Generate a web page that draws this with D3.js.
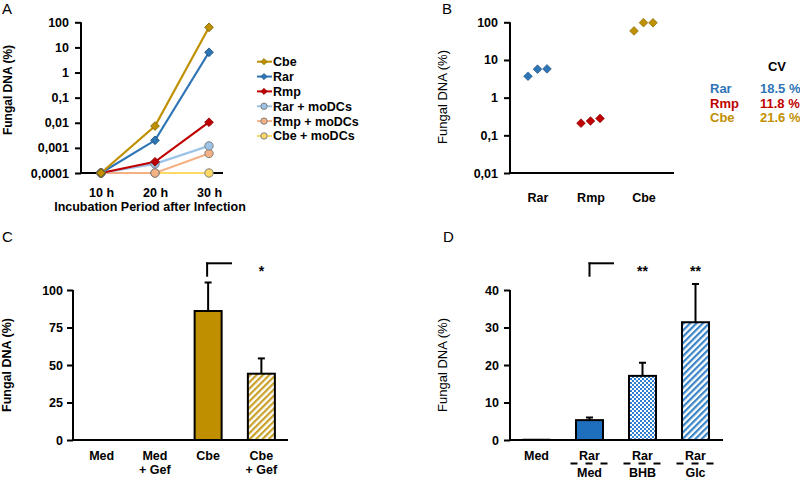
<!DOCTYPE html>
<html><head><meta charset="utf-8">
<script src="https://cdn.jsdelivr.net/npm/d3@7"></script>
<style>
body{margin:0;background:#fff;}
svg{font-family:Arial,"Liberation Sans",sans-serif;}
.tick text{font-weight:bold;font-size:12.5px;fill:#000;}
</style></head>
<body><svg id="c" width="800" height="480"></svg>
<script>
// ---------- DATA ----------
const timePoints = ["10 h", "20 h", "30 h"];
const seriesA = ["Cbe", "Rar", "Rmp", "Rar + moDCs", "Rmp + moDCs", "Cbe + moDCs"];
const valCbe = [0.0001, 0.0074, 63];
const valRar = [0.0001, 0.002, 6.4];
const valRmp = [0.0001, 0.00028, 0.0105];
const valRarMo = [0.0001, 0.00023, 0.0012];
const valRmpMo = [0.0001, 0.0001, 0.0006];
const valCbeMo = [0.0001, 0.0001, 0.0001];
const logTicksA = [0.0001, 0.001, 0.01, 0.1, 1, 10, 100];
const logLabelsA = ["0,0001", "0,001", "0,01", "0,1", "1", "10", "100"];

const speciesB = ["Rar", "Rmp", "Cbe"];
const repRar = [3.7, 5.7, 5.8];
const repRmp = [0.21, 0.24, 0.28];
const repCbe = [59, 98, 97];
const logTicksB = [0.01, 0.1, 1, 10, 100];
const logLabelsB = ["0,01", "0,1", "1", "10", "100"];
const cvNames = ["Rar", "Rmp", "Cbe"];
const cvValues = ["18.5 %", "11.8 %", "21.6 %"];

const catsC = ["Med", "Med + Gef", "Cbe", "Cbe + Gef"];
const meanC = [0.3, 0.3, 86, 44.2];
const errC = [0, 0, 105, 54.4];
const ticksC = [0, 25, 50, 75, 100];

const catsD = ["Med", "Rar/Med", "Rar/BHB", "Rar/Glc"];
const meanD = [0.2, 5.3, 17.1, 31.4];
const errD = [0, 6.0, 20.6, 41.6];
const ticksD = [0, 10, 20, 30, 40];

// ---------- STYLE ----------
const colA = {"Cbe":"#bf9000","Rar":"#2e75b6","Rmp":"#c00000","Rar + moDCs":"#9dc3e6","Rmp + moDCs":"#f4b183","Cbe + moDCs":"#ffd966"};
const edgeA = {"Cbe":"#7f6000","Rar":"#1f4e79","Rmp":"#800000","Rar + moDCs":"#7f7f7f","Rmp + moDCs":"#7f7f7f","Cbe + moDCs":"#7f7f7f"};
const svg = d3.select("#c");
const defs = svg.append("defs");

function panelLabel(t,x,y){svg.append("text").attr("x",x).attr("y",y).attr("font-size",15).text(t);}
function yTitle(x,y,bold,size){
  svg.append("text").attr("transform",`translate(${x},${y}) rotate(-90)`)
   .attr("text-anchor","middle").attr("dominant-baseline","central")
   .attr("font-weight",bold?"bold":"normal").attr("font-size",size).text("Fungal DNA (%)");
}
function styleAxis(g){
  g.selectAll(".domain").remove();
  g.selectAll(".tick line").attr("stroke","#000").attr("stroke-width",2);
}
function hline(x1,x2,y){svg.append("line").attr("x1",x1).attr("x2",x2).attr("y1",y).attr("y2",y).attr("stroke","#000").attr("stroke-width",2);}
function vline(x,y1,y2){svg.append("line").attr("x1",x).attr("x2",x).attr("y1",y1).attr("y2",y2).attr("stroke","#000").attr("stroke-width",2);}

// ---------- PANEL A ----------
panelLabel("A",2,14);
const xA = d3.scalePoint().domain(timePoints).range([101,209]);
const yA = d3.scaleLog().domain([0.0001,100]).range([173,22.3]);
const gyA = svg.append("g").attr("transform","translate(81,0)")
  .call(d3.axisLeft(yA).tickValues(logTicksA).tickFormat((d,i)=>logLabelsA[i]).tickSize(6).tickPadding(6));
styleAxis(gyA);
vline(81,22.3,174); hline(80,223,173);
const gxA = svg.append("g").attr("transform","translate(0,173)")
  .call(d3.axisBottom(xA).tickSize(0).tickPadding(15));
gxA.select(".domain").remove();
svg.append("text").attr("x",150).attr("y",210.5).attr("text-anchor","middle").attr("font-weight","bold").attr("font-size",12.5).text("Incubation Period after Infection");
yTitle(8,90,true,12);
const dataA = {"Cbe":valCbe,"Rar":valRar,"Rmp":valRmp,"Rar + moDCs":valRarMo,"Rmp + moDCs":valRmpMo,"Cbe + moDCs":valCbeMo};
const lineA = d3.line().x((d,i)=>xA(timePoints[i])).y(d=>yA(d));
const drawOrder = ["Cbe + moDCs","Rmp + moDCs","Rar + moDCs","Rmp","Rar","Cbe"];
const diamond = d3.symbol().type(d3.symbolSquare).size(38);
drawOrder.forEach(s=>{
  svg.append("path").attr("d",lineA(dataA[s])).attr("fill","none").attr("stroke",colA[s]).attr("stroke-width",2.2);
});
drawOrder.forEach(s=>{
  const isMo = s.indexOf("moDCs")>=0;
  dataA[s].forEach((v,i)=>{
    const x = xA(timePoints[i]), y = yA(v);
    if(isMo){
      svg.append("circle").attr("cx",x).attr("cy",y).attr("r",4.2).attr("fill",colA[s]).attr("stroke",edgeA[s]).attr("stroke-width",1);
    } else {
      svg.append("path").attr("d",diamond()).attr("transform",`translate(${x},${y}) rotate(45)`).attr("fill",colA[s]).attr("stroke",edgeA[s]).attr("stroke-width",0.8);
    }
  });
});
// legend
seriesA.forEach((s,i)=>{
  const y = 61.7 + i*14.85;
  const isMo = s.indexOf("moDCs")>=0;
  svg.append("line").attr("x1",257).attr("x2",272).attr("y1",y).attr("y2",y).attr("stroke",colA[s]).attr("stroke-width",2);
  if(isMo) svg.append("circle").attr("cx",264).attr("cy",y).attr("r",3.2).attr("fill",colA[s]).attr("stroke",edgeA[s]).attr("stroke-width",1);
  else svg.append("path").attr("d",d3.symbol().type(d3.symbolSquare).size(20)()).attr("transform",`translate(264,${y}) rotate(45)`).attr("fill",colA[s]).attr("stroke",edgeA[s]).attr("stroke-width",0.6);
  svg.append("text").attr("x",273).attr("y",y+4.5).attr("font-weight","bold").attr("font-size",12.5).text(s);
});

// ---------- PANEL B ----------
panelLabel("B",442,14);
const xB = d3.scalePoint().domain(speciesB).range([537.5,643.5]);
const yB = d3.scaleLog().domain([0.01,100]).range([173,22.3]);
const gyB = svg.append("g").attr("transform","translate(510,0)")
  .call(d3.axisLeft(yB).tickValues(logTicksB).tickFormat((d,i)=>logLabelsB[i]).tickSize(6).tickPadding(6));
styleAxis(gyB);
vline(510,22.3,174); hline(509,674,173);
const gxB = svg.append("g").attr("transform","translate(0,173)")
  .call(d3.axisBottom(xB).tickSize(0).tickPadding(20));
gxB.select(".domain").remove();
yTitle(442,97,false,13);
const dataB = {"Rar":repRar,"Rmp":repRmp,"Cbe":repCbe};
const jitter = [-9.5,0,9.5];
speciesB.forEach(s=>{
  dataB[s].forEach((v,i)=>{
    svg.append("path").attr("d",diamond()).attr("transform",`translate(${xB(s)+jitter[i]},${yB(v)}) rotate(45)`)
      .attr("fill",colA[s]).attr("stroke",edgeA[s]).attr("stroke-width",0.6);
  });
});
svg.append("text").attr("x",777).attr("y",71).attr("text-anchor","middle").attr("font-weight","bold").attr("font-size",13).text("CV");
cvNames.forEach((s,i)=>{
  const y = 93 + i*14.5;
  svg.append("text").attr("x",710).attr("y",y).attr("font-weight","bold").attr("font-size",13).attr("fill",colA[s]).text(s);
  svg.append("text").attr("x",760).attr("y",y).attr("font-weight","bold").attr("font-size",13).attr("fill",colA[s]).text(cvValues[i]);
});

// ---------- patterns ----------
function stripePattern(id,color){
  const p = defs.append("pattern").attr("id",id).attr("patternUnits","userSpaceOnUse").attr("width",4.5).attr("height",4.5).attr("patternTransform","rotate(45)");
  p.append("rect").attr("width",4.5).attr("height",4.5).attr("fill","#fff");
  p.append("rect").attr("width",2.2).attr("height",4.5).attr("fill",color);
}
stripePattern("stripeGold","#c9a12a");
stripePattern("stripeBlue","#3a85c8");
const chk = defs.append("pattern").attr("id","check").attr("patternUnits","userSpaceOnUse").attr("width",4).attr("height",4);
chk.append("rect").attr("width",4).attr("height",4).attr("fill","#fff");
chk.append("rect").attr("width",2).attr("height",2).attr("fill","#2e7fcf");
chk.append("rect").attr("x",2).attr("y",2).attr("width",2).attr("height",2).attr("fill","#2e7fcf");

function bars(x,y,cats,means,errs,fills){
  cats.forEach((c,i)=>{
    const cx = x(c)+x.bandwidth()/2, w = 27;
    const top = y(means[i]);
    if(errs[i]>0){
      vline(cx,y(errs[i]),top);
      hline(cx-3.5,cx+3.5,y(errs[i]));
    }
    svg.append("rect").attr("x",cx-w/2).attr("y",top).attr("width",w).attr("height",Math.max(0,y(0)-top))
      .attr("fill",fills[i]).attr("stroke","#000").attr("stroke-width",means[i]>2?2:1);
  });
}

// ---------- PANEL C ----------
panelLabel("C",2,242);
const xC = d3.scaleBand().domain(catsC).range([75,288]);
const yC = d3.scaleLinear().domain([0,100]).range([440,290]);
const gyC = svg.append("g").attr("transform","translate(73,0)")
  .call(d3.axisLeft(yC).tickValues(ticksC).tickSize(6).tickPadding(4));
styleAxis(gyC);
bars(xC,yC,catsC,meanC,errC,["#fff","#fff","#bf8f00","url(#stripeGold)"]);
vline(73,290,441); hline(72,288,440);
const gxC = svg.append("g").attr("transform","translate(0,440)")
  .call(d3.axisBottom(xC).tickSize(0).tickPadding(15).tickFormat(()=>""));
gxC.select(".domain").remove();
gxC.selectAll(".tick").each(function(d){
  const parts = d.split(" + ");
  const t = d3.select(this).append("text").attr("fill","#000").attr("text-anchor","middle").attr("y",20);
  t.append("tspan").attr("x",0).text(parts[0]);
  if(parts[1]) t.append("tspan").attr("x",0).attr("dy",13.5).text("+ "+parts[1]);
});
yTitle(7,365,true,12.5);
vline(xC("Cbe")+xC.bandwidth()/2-1,276.7,262.5); hline(xC("Cbe")+xC.bandwidth()/2-2,232,263.3);
svg.append("text").attr("x",xC("Cbe + Gef")+xC.bandwidth()/2).attr("y",276).attr("text-anchor","middle").attr("font-weight","bold").attr("font-size",14).text("*");

// ---------- PANEL D ----------
panelLabel("D",443,242);
const xD = d3.scaleBand().domain(catsD).range([510,722]);
const yD = d3.scaleLinear().domain([0,40]).range([440,290]);
const gyD = svg.append("g").attr("transform","translate(510,0)")
  .call(d3.axisLeft(yD).tickValues(ticksD).tickSize(6).tickPadding(5));
styleAxis(gyD);
bars(xD,yD,catsD,meanD,errD,["#fff","#1f6fbf","url(#check)","url(#stripeBlue)"]);
vline(510,290,441); hline(509,723,440);
const gxD = svg.append("g").attr("transform","translate(0,440)")
  .call(d3.axisBottom(xD).tickSize(0).tickFormat(()=>""));
gxD.select(".domain").remove();
gxD.selectAll(".tick").each(function(d){
  const parts = d.split("/");
  const g = d3.select(this);
  g.append("text").attr("fill","#000").attr("text-anchor","middle").attr("y",19.5).text(parts[0]);
  if(parts[1]){
    g.append("line").attr("x1",-19).attr("x2",19).attr("y1",23.5).attr("y2",23.5).attr("stroke","#000").attr("stroke-width",1.8).attr("stroke-dasharray","7,8");
    g.append("text").attr("fill","#000").attr("text-anchor","middle").attr("y",37).text(parts[1]);
  }
});
yTitle(442,365,false,13);
const cRM = xD("Rar/Med")+xD.bandwidth()/2;
vline(cRM,276.7,262.5); hline(cRM-1,614,263.3);
["Rar/BHB","Rar/Glc"].forEach(c=>{
  svg.append("text").attr("x",xD(c)+xD.bandwidth()/2).attr("y",276).attr("text-anchor","middle").attr("font-weight","bold").attr("font-size",14).text("**");
});
</script></body></html>
